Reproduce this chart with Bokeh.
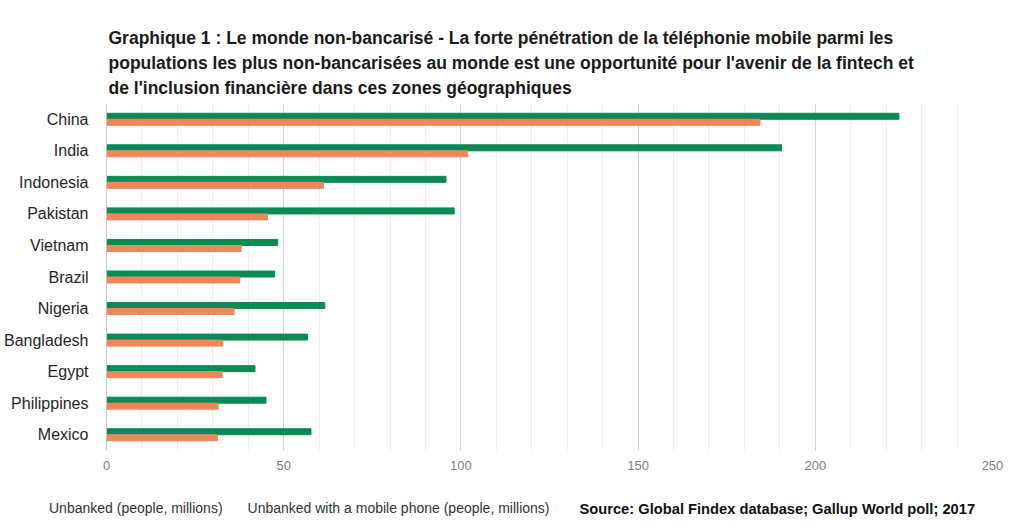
from bokeh.plotting import figure
from bokeh.layouts import column
from bokeh.models import (FactorRange, Range1d, Label, Legend, LegendItem,
                          ColumnDataSource, SingleIntervalTicker)
from bokeh.transform import dodge
from bokeh.embed import file_html
from bokeh.resources import INLINE

countries = ["China", "India", "Indonesia", "Pakistan", "Vietnam", "Brazil",
             "Nigeria", "Bangladesh", "Egypt", "Philippines", "Mexico"]
unbanked = [223.6, 190.5, 95.8, 98.1, 48.3, 47.4, 61.6, 56.7, 41.9, 45.0, 57.7]
unbanked_mobile = [184.4, 101.9, 61.2, 45.4, 38.0, 37.6, 36.0, 32.8, 32.6, 31.5, 31.3]
series_names = ["Unbanked (people, millions)",
                "Unbanked with a mobile phone (people, millions)"]
title_lines = [
    "Graphique 1 : Le monde non-bancarisé - La forte pénétration de la téléphonie mobile parmi les",
    "populations les plus non-bancarisées au monde est une opportunité pour l'avenir de la fintech et",
    "de l'inclusion financière dans ces zones géographiques",
]
source_text = "Source: Global Findex database; Gallup World poll; 2017"

GREEN = "#0b8a57"
ORANGE = "#f0875a"
FONT = "Liberation Sans"
W = 1024


def blank(height):
    f = figure(width=W, height=height, output_backend="svg", toolbar_location=None,
               x_range=Range1d(0, W), y_range=Range1d(0, height),
               x_axis_type=None, y_axis_type=None,
               min_border=0, min_border_left=0, min_border_right=0,
               min_border_top=0, min_border_bottom=0)
    f.frame_align = False
    f.outline_line_color = None
    f.xgrid.visible = False
    f.ygrid.visible = False
    f.border_fill_color = "white"
    f.title.visible = False
    return f


# ---- title panel
TH = 100
tp = blank(TH)
for i, line in enumerate(title_lines):
    tp.add_layout(Label(x=108, y=TH - 37 - i * 25, x_units="screen", y_units="screen",
                        text=line, text_font=FONT, text_font_style="bold",
                        text_font_size="17.5px", text_color="#1a1a1a",
                        text_baseline="alphabetic"))

# ---- main chart
src = ColumnDataSource(dict(country=countries, unbanked=unbanked,
                            mobile=unbanked_mobile))

p = figure(width=W, height=380, output_backend="svg", toolbar_location=None,
           y_range=FactorRange(factors=list(reversed(countries))),
           x_range=Range1d(0, 250),
           min_border_left=106, min_border_right=32,
           min_border_top=3, min_border_bottom=30)
p.frame_align = False
p.outline_line_color = None
p.background_fill_color = "white"
p.border_fill_color = "white"

p.hbar(y=dodge("country", 0.095, range=p.y_range), right="unbanked", left=0,
       height=0.19, color=GREEN, source=src)
p.hbar(y=dodge("country", -0.095, range=p.y_range), right="mobile", left=0,
       height=0.19, color=ORANGE, source=src)

p.xaxis.ticker = SingleIntervalTicker(interval=50, num_minor_ticks=5)
p.xaxis.axis_line_color = None
p.xaxis.major_tick_line_color = None
p.xaxis.minor_tick_line_color = None
p.xaxis.major_label_text_font = FONT
p.xaxis.major_label_text_font_size = "13px"
p.xaxis.major_label_text_color = "#808080"
p.xaxis.major_label_standoff = 4

p.yaxis.axis_line_color = "#c8c8c8"
p.yaxis.major_tick_line_color = None
p.yaxis.minor_tick_line_color = None
p.yaxis.major_label_text_font = FONT
p.yaxis.major_label_text_font_size = "16px"
p.yaxis.major_label_text_color = "#262626"
p.yaxis.major_label_standoff = 12

p.ygrid.grid_line_color = None
p.xgrid.grid_line_color = "#d4d4d4"
p.xgrid.minor_grid_line_color = "#eeeeee"

# ---- footer: legend + source
FH = 531 - TH - 380
fp = blank(FH)
empty = ColumnDataSource(dict(y=[], right=[]))
dg = fp.hbar(y="y", right="right", left=0, height=1, color="#4aa982", source=empty)
do = fp.hbar(y="y", right="right", left=0, height=1, color="#f5bda2", source=empty)
legend = Legend(items=[LegendItem(label=series_names[0], renderers=[dg]),
                       LegendItem(label=series_names[1], renderers=[do])],
                orientation="horizontal", location=(39, 13),
                padding=0, margin=0, spacing=15, glyph_width=4, glyph_height=4,
                label_standoff=6, label_text_font=FONT, label_text_font_size="14px",
                label_text_color="#333333", background_fill_alpha=0,
                border_line_color=None, label_height=20)
fp.add_layout(legend, "center")
fp.add_layout(Label(x=579, y=23, x_units="screen", y_units="screen",
                    text=source_text, text_font=FONT, text_font_style="bold",
                    text_font_size="14.7px", text_color="#111111",
                    text_baseline="middle"))

layout = column(tp, p, fp, spacing=0)
open("out.html", "w").write(file_html(layout, INLINE))
